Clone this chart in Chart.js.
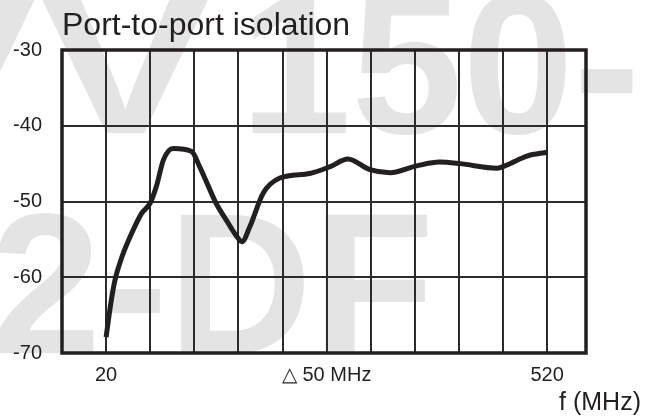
<!DOCTYPE html>
<html>
<head>
<meta charset="utf-8">
<script src="https://cdn.jsdelivr.net/npm/chart.js@4/dist/chart.umd.min.js"></script>
<style>
  html, body { margin: 0; padding: 0; background: #ffffff; }
  #wrap { width: 653px; height: 419px; }
</style>
</head>
<body>
<div id="wrap"><canvas id="c" width="653" height="419"></canvas></div>
<script>
// ---- data ----
const freqMHz = [20, 25, 30, 38, 49, 60, 70, 77, 85, 96, 117, 126, 136, 145, 157, 168, 174, 183, 198, 217, 251, 274, 294, 319, 342, 372, 398, 421, 463, 474, 497, 520];
const isolationDb = [-67.9, -63.7, -60.4, -57.3, -54.2, -51.6, -50.2, -48.0, -44.5, -43.0, -43.4, -45.4, -48.0, -50.3, -52.6, -54.6, -55.3, -53.3, -48.9, -46.9, -46.3, -45.4, -44.4, -45.8, -46.2, -45.3, -44.8, -45.0, -45.6, -45.2, -44.0, -43.5];
const xGridMHz = [-30, 20, 70, 120, 170, 220, 270, 320, 370, 420, 470, 520];
const xTickLabels = { 20: "20", 270: "\u25B3 50 MHz", 520: "520" };
const yTicks = [-70, -60, -50, -40, -30];
const titleText = "Port-to-port isolation";
const xAxisTitle = "f (MHz)";
const watermarkLine1a = "VV";
const watermarkLine1b = "150-";
const watermarkLine2 = "2-DF";

const FONT = "'Liberation Sans', Arial, Helvetica, sans-serif";
const INK = "#231f20";

const decor = {
  id: "decor",
  beforeDraw(chart) {
    const ctx = chart.ctx;
    ctx.save();
    ctx.fillStyle = "#ffffff";
    ctx.fillRect(0, 0, chart.width, chart.height);
    ctx.fillStyle = "#e4e4e4";
    ctx.textBaseline = "alphabetic";
    ctx.textAlign = "left";
    ctx.font = "bold 200px " + FONT;
    ctx.save();
    ctx.translate(-135, 133);
    ctx.scale(1.3, 1);
    ctx.fillText(watermarkLine1a, 0, 0);
    ctx.restore();
    ctx.fillText(watermarkLine1b, 240, 133);
    ctx.fillText(watermarkLine2, -10, 353);
    ctx.restore();
  },
  afterDraw(chart) {
    const ctx = chart.ctx;
    const a = chart.chartArea;
    ctx.save();
    ctx.strokeStyle = INK;
    ctx.lineWidth = 3.5;
    ctx.strokeRect(a.left, a.top, a.right - a.left, a.bottom - a.top);
    ctx.fillStyle = INK;
    ctx.textBaseline = "alphabetic";
    ctx.textAlign = "left";
    ctx.font = "32px " + FONT;
    ctx.fillText(titleText, a.left, 35);
    ctx.textAlign = "right";
    ctx.font = "25px " + FONT;
    ctx.fillText(xAxisTitle, 641, 410);
    ctx.restore();
  }
};

new Chart(document.getElementById("c"), {
  type: "line",
  data: {
    datasets: [{
      data: freqMHz.map((f, i) => ({ x: f, y: isolationDb[i] })),
      borderColor: INK,
      borderWidth: 5,
      pointRadius: 0,
      fill: false,
      cubicInterpolationMode: "monotone",
      borderCapStyle: "butt",
      borderJoinStyle: "round"
    }]
  },
  options: {
    responsive: false,
    animation: false,
    devicePixelRatio: 1,
    layout: { padding: { top: 50, right: 67, left: 0, bottom: 0 } },
    plugins: { legend: { display: false }, title: { display: false }, tooltip: { enabled: false } },
    scales: {
      x: {
        type: "linear",
        min: -30,
        max: 564,
        afterBuildTicks: (axis) => { axis.ticks = xGridMHz.map(v => ({ value: v })); },
        afterFit: (axis) => { axis.height = 66; },
        grid: { color: "#2b2b2b", lineWidth: 2, drawTicks: false },
        border: { display: false },
        ticks: {
          autoSkip: false,
          maxRotation: 0,
          padding: 10,
          color: INK,
          font: { family: FONT, size: 20 },
          callback: (v) => xTickLabels[v] || ""
        }
      },
      y: {
        type: "linear",
        min: -70,
        max: -30,
        afterBuildTicks: (axis) => { axis.ticks = yTicks.map(v => ({ value: v })); },
        afterFit: (axis) => { axis.width = 62; },
        grid: { color: "#2b2b2b", lineWidth: 2, drawTicks: false },
        border: { display: false },
        ticks: {
          padding: 20,
          color: INK,
          font: { family: FONT, size: 20 },
          callback: (v) => String(v)
        }
      }
    }
  },
  plugins: [decor]
});
</script>
</body>
</html>
